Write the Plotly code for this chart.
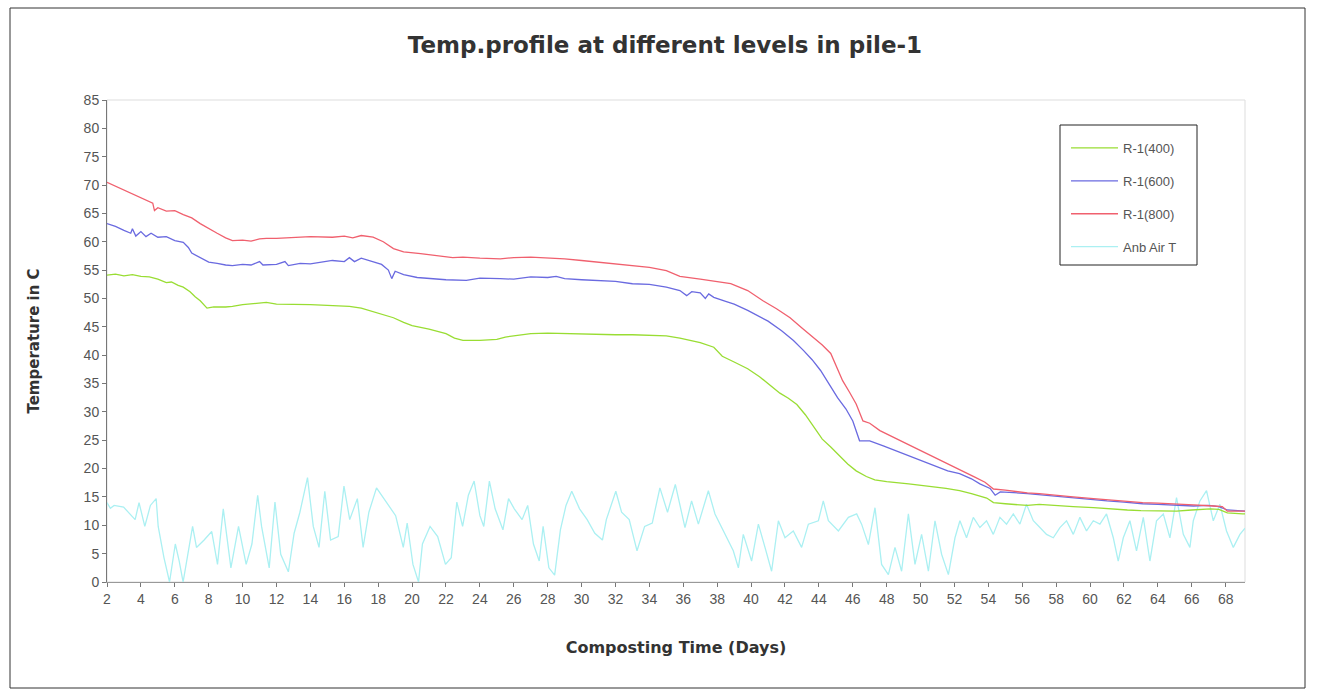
import plotly.graph_objects as go

# ---------------- data ----------------
r400_day = [2.0, 2.5, 3.0, 3.5, 4.0, 4.5, 5.0, 5.5, 5.8, 6.2, 6.5, 6.9, 7.2, 7.5, 7.9, 8.3, 9.0, 9.4,
            10.0, 11.0, 11.4, 12.0, 13.0, 14.0, 15.0, 16.3, 17.0, 17.9, 18.9, 19.5, 20.0, 21.0, 22.0,
            22.5, 23.0, 24.0, 25.0, 25.5, 26.5, 27.0, 28.0, 29.0, 30.0, 31.0, 32.0, 33.0, 34.0, 35.0,
            35.8, 36.5, 37.0, 37.8, 38.3, 39.0, 39.8, 40.5, 41.0, 41.7, 42.2, 42.7, 43.2, 43.7, 44.2,
            44.7, 45.2, 45.7, 46.2, 46.8, 47.3, 48.0, 49.3, 50.5, 51.5, 52.3, 53.0, 53.9, 54.3, 55.0,
            56.3, 57.0, 58.2, 59.0, 60.2, 61.0, 62.2, 63.0, 64.0, 65.1, 66.0, 67.1, 67.6, 68.1, 69.0, 69.14]
r400_val = [54.1, 54.3, 54.0, 54.2, 53.9, 53.8, 53.4, 52.8, 52.9, 52.3, 52.0, 51.2, 50.3, 49.6, 48.3, 48.5, 48.5, 48.6,
            48.9, 49.2, 49.3, 49.0, 49.0, 48.9, 48.8, 48.6, 48.3, 47.5, 46.6, 45.8, 45.2, 44.6, 43.8,
            43.0, 42.6, 42.6, 42.8, 43.2, 43.6, 43.8, 43.9, 43.8, 43.7, 43.7, 43.6, 43.6, 43.5, 43.4,
            43.0, 42.5, 42.2, 41.4, 39.8, 38.8, 37.6, 36.2, 35.0, 33.3, 32.4, 31.3, 29.5, 27.4, 25.2,
            23.8, 22.3, 20.8, 19.6, 18.6, 18.0, 17.7, 17.3, 16.9, 16.5, 16.1, 15.6, 14.8, 14.0, 13.8,
            13.5, 13.7, 13.4, 13.3, 13.1, 12.9, 12.7, 12.6, 12.6, 12.5, 12.7, 12.9, 12.8, 12.2, 12.0, 12.0]

r600_day = [2.0, 2.5, 3.0, 3.4, 3.5, 3.7, 4.0, 4.3, 4.6, 5.0, 5.5, 6.0, 6.5, 6.8, 7.0, 7.5, 8.0, 8.5, 9.0,
            9.4, 10.0, 10.5, 11.0, 11.2, 12.0, 12.5, 12.7, 13.4, 14.0, 15.3, 16.0, 16.3, 16.6, 17.0,
            17.7, 18.2, 18.6, 18.8, 19.0, 19.5, 20.3, 21.0, 22.0, 23.2, 24.0, 25.2, 26.0, 27.0, 28.0,
            28.5, 29.0, 30.0, 31.0, 32.0, 33.0, 34.0, 35.0, 35.8, 36.2, 36.5, 37.0, 37.3, 37.5, 37.8,
            38.5, 39.0, 39.8, 40.5, 41.0, 41.8, 42.5, 43.1, 43.6, 44.1, 44.6, 45.1, 45.6, 46.0, 46.4,
            47.0, 47.8, 48.6, 49.5, 50.6, 51.6, 52.3, 53.0, 53.5, 54.1, 54.4, 54.7, 56.3, 57.0, 58.2,
            59.0, 60.2, 61.0, 62.0, 63.1, 64.0, 65.0, 66.1, 67.0, 67.6, 68.1, 69.0, 69.14]
r600_val = [63.2, 62.7, 62.0, 61.5, 62.3, 61.0, 61.8, 60.9, 61.5, 60.8, 60.9, 60.2, 59.9, 59.0, 58.0, 57.2, 56.4, 56.2, 55.9,
            55.8, 56.0, 55.9, 56.5, 55.9, 56.0, 56.5, 55.8, 56.2, 56.1, 56.7, 56.5, 57.2, 56.5, 57.1,
            56.4, 56.0, 55.0, 53.5, 54.8, 54.2, 53.7, 53.5, 53.3, 53.2, 53.6, 53.5, 53.4, 53.8, 53.7,
            53.9, 53.5, 53.3, 53.2, 53.0, 52.6, 52.5, 52.0, 51.4, 50.5, 51.2, 51.0, 50.0, 50.8, 50.2,
            49.5, 49.0, 47.9, 46.8, 46.0, 44.3, 42.6, 40.8, 39.2, 37.3, 35.0, 32.5, 30.5, 28.4, 24.9,
            24.9, 24.0, 23.1, 22.0, 20.8, 19.6, 19.1, 18.2, 17.3, 16.5, 15.3, 15.9, 15.6, 15.4, 15.0,
            14.9, 14.5, 14.3, 14.1, 13.8, 13.7, 13.6, 13.4, 13.5, 13.3, 12.7, 12.5, 12.5]

r800_day = [2.0, 2.5, 3.0, 3.5, 4.0, 4.5, 4.7, 4.8, 5.0, 5.5, 6.0, 6.5, 7.0, 7.5, 8.0, 8.5, 9.0, 9.4,
            10.0, 10.5, 11.0, 11.4, 12.0, 13.0, 14.0, 15.3, 16.0, 16.5, 17.0, 17.7, 18.3, 18.9, 19.5,
            20.5, 21.5, 22.4, 23.0, 24.0, 25.2, 26.0, 27.0, 28.0, 29.0, 30.0, 31.0, 32.0, 33.0, 34.0,
            35.0, 35.8, 37.0, 37.8, 38.8, 39.8, 40.7, 41.5, 42.3, 43.0, 43.7, 44.2, 44.7, 45.0, 45.4,
            45.8, 46.2, 46.6, 47.0, 47.6, 48.5, 49.6, 50.5, 51.6, 52.5, 53.2, 53.8, 54.3, 55.0, 56.3,
            57.0, 58.2, 59.0, 60.2, 61.0, 62.0, 63.1, 64.0, 65.0, 66.1, 67.3, 67.8, 68.1, 69.0, 69.14]
r800_val = [70.5, 69.8, 69.2, 68.5, 67.8, 67.1, 66.8, 65.5, 66.0, 65.4, 65.5, 64.8, 64.2, 63.2, 62.3, 61.5, 60.7, 60.2,
            60.3, 60.1, 60.5, 60.6, 60.6, 60.8, 60.9, 60.8, 61.0, 60.7, 61.1, 60.8, 60.0, 58.8, 58.2,
            57.9, 57.6, 57.2, 57.3, 57.1, 57.0, 57.2, 57.3, 57.2, 57.0, 56.7, 56.4, 56.1, 55.8, 55.5,
            54.9, 53.9, 53.4, 53.0, 52.6, 51.4, 49.6, 48.2, 46.6, 44.8, 43.1, 41.8, 40.3, 38.3, 35.5,
            33.5, 31.4, 28.4, 28.0, 26.7, 25.4, 23.7, 22.4, 20.8, 19.6, 18.5, 17.6, 16.4, 16.2, 15.7,
            15.6, 15.2, 15.0, 14.7, 14.5, 14.2, 14.0, 13.9, 13.8, 13.6, 13.4, 13.3, 12.5, 12.5, 12.5]

amb_day = [2.0, 2.2, 2.42, 2.98, 3.66, 3.89, 4.23, 4.56, 4.90, 5.02, 5.36, 5.69, 6.03, 6.26, 6.49, 6.82,
           7.05, 7.28, 7.73, 8.18, 8.52, 8.86, 9.31, 9.76, 10.21, 10.55, 10.89, 11.12, 11.57, 11.91,
           12.25, 12.70, 13.04, 13.38, 13.83, 14.17, 14.51, 14.85, 15.19, 15.64, 15.98, 16.32, 16.77,
           17.11, 17.45, 17.90, 18.35, 19.03, 19.48, 19.71, 20.05, 20.38, 20.61, 21.06, 21.51, 21.97,
           22.31, 22.64, 22.98, 23.32, 23.66, 24.00, 24.23, 24.56, 24.90, 25.36, 25.69, 26.03, 26.49,
           26.82, 27.16, 27.50, 27.73, 28.07, 28.41, 28.75, 29.08, 29.42, 29.88, 30.33, 30.78, 31.23,
           31.46, 32.02, 32.36, 32.81, 33.27, 33.72, 34.17, 34.62, 35.07, 35.53, 36.10, 36.49, 36.89,
           37.48, 37.87, 38.46, 38.95, 39.25, 39.54, 40.03, 40.43, 40.82, 41.21, 41.61, 42.00, 42.49,
           42.98, 43.38, 43.97, 44.26, 44.56, 45.15, 45.74, 46.23, 46.52, 46.92, 47.31, 47.70, 48.10,
           48.49, 48.88, 49.28, 49.67, 50.06, 50.46, 50.85, 51.24, 51.64, 52.03, 52.32, 52.71, 53.11,
           53.50, 53.89, 54.29, 54.68, 55.07, 55.47, 55.86, 56.25, 56.65, 57.04, 57.43, 57.83, 58.22,
           58.61, 59.01, 59.40, 59.79, 60.19, 60.58, 60.97, 61.37, 61.66, 61.96, 62.35, 62.74, 63.14,
           63.53, 63.92, 64.32, 64.71, 65.10, 65.50, 65.89, 66.09, 66.48, 66.87, 67.27, 67.66, 68.05,
           68.45, 68.84, 69.14]
amb_val = [14.0, 13.0, 13.5, 13.2, 11.0, 14.0, 9.8, 13.5, 14.7, 9.8, 4.3, 0.0, 6.7, 3.7, 0.0, 6.1,
           9.8, 6.1, 7.4, 8.9, 3.1, 12.9, 2.5, 9.8, 3.1, 6.7, 15.3, 9.8, 2.5, 14.1,
           4.9, 1.8, 8.6, 12.3, 18.4, 9.8, 6.1, 16.0, 7.4, 8.0, 16.9, 11.0, 14.7,
           6.1, 12.3, 16.6, 14.7, 11.7, 6.1, 10.4, 3.1, 0.0, 6.7, 9.8, 8.0, 3.1,
           4.3, 14.1, 9.8, 15.3, 17.8, 11.7, 9.8, 17.8, 12.9, 9.2, 14.7, 12.9, 11.0,
           13.5, 6.7, 3.7, 9.8, 2.5, 1.2, 9.2, 13.5, 16.0, 12.9, 11.0, 8.6, 7.4,
           11.0, 16.0, 12.3, 11.0, 5.5, 9.8, 10.4, 16.6, 12.3, 17.2, 9.6, 14.3, 10.2,
           16.1, 12.0, 8.4, 5.5, 2.5, 8.4, 3.7, 10.2, 6.1, 1.9, 10.8, 7.8, 9.0,
           6.1, 10.2, 10.8, 14.3, 10.8, 9.0, 11.4, 12.0, 10.2, 6.6, 13.1, 3.1, 1.3,
           6.1, 1.9, 12.0, 3.1, 8.4, 1.9, 10.8, 4.9, 1.3, 7.8, 10.8, 7.8, 11.4,
           9.6, 10.8, 8.4, 11.4, 10.2, 12.0, 10.2, 13.7, 10.8, 9.6, 8.4, 7.8, 9.6,
           10.8, 8.4, 11.4, 9.0, 10.8, 10.2, 12.0, 7.8, 3.7, 7.8, 10.8, 5.5, 11.4,
           3.7, 10.8, 12.0, 7.8, 14.9, 8.4, 6.1, 10.8, 14.3, 16.1, 10.8, 13.7, 9.0,
           6.1, 8.4, 9.5]

series_names = ["R-1(400)", "R-1(600)", "R-1(800)", "Anb Air T"]
series_colors = ["#99DD33", "#6A6AE0", "#F0606E", "#ABF0F2"]

x_ticks = list(range(2, 69, 2))
y_ticks = list(range(0, 86, 5))

title_text = "Temp.profile at different levels in pile-1"
x_title = "Composting Time (Days)"
y_title = "Temperature in C"

# ---------------- figure ----------------
W, H = 1317, 694
L, R, T, B = 107, 72, 100, 112
pw, ph = W - L - R, H - T - B

def px2paper_x(px):
    return (px - L) / pw

def px2paper_y(py):
    return (H - B - py) / ph

fig = go.Figure()
series = [(amb_day, amb_val, 3), (r400_day, r400_val, 0), (r600_day, r600_val, 1), (r800_day, r800_val, 2)]
for dx, dy, i in series:
    fig.add_trace(go.Scatter(
        x=dx, y=dy, mode="lines", name=series_names[i],
        line=dict(color=series_colors[i], width=1.3),
        legendgroup=str(i), legendrank=i + 1,
    ))

fig.update_layout(
    width=W, height=H,
    margin=dict(l=L, r=R, t=T, b=B),
    paper_bgcolor="white", plot_bgcolor="white",
    font=dict(family="Liberation Sans, Arial, sans-serif", color="#444", size=13),
    title=dict(text="<b>" + title_text + "</b>", x=665 / W, xref="container", xanchor="center",
               y=1 - 45 / H, yref="container", yanchor="middle",
               font=dict(family="DejaVu Sans, sans-serif", size=23, color="#333")),
    showlegend=True,
    legend=dict(x=px2paper_x(1066), y=px2paper_y(133), xanchor="left", yanchor="top",
                traceorder="grouped", tracegroupgap=13, itemwidth=47,
                borderwidth=0, bgcolor="rgba(0,0,0,0)",
                font=dict(size=13, color="#555")),
    xaxis=dict(range=[2, 69.14], tickvals=x_ticks, ticktext=[str(v) for v in x_ticks],
               showgrid=False, zeroline=False, showline=True, linecolor="#999", linewidth=1,
               ticks="outside", ticklen=4, tickcolor="#777",
               tickfont=dict(size=14, color="#555"),
               title=dict(text="<b>" + x_title + "</b>",
                          font=dict(family="DejaVu Sans, sans-serif", size=16, color="#333"), standoff=36)),
    yaxis=dict(range=[0, 85], tickvals=y_ticks,
               showgrid=False, zeroline=False, showline=True, linecolor="#777", linewidth=1,
               ticks="outside", ticklen=4, tickcolor="#777",
               tickfont=dict(size=14, color="#555"),
               title=dict(text="<b>" + y_title + "</b>",
                          font=dict(family="DejaVu Sans, sans-serif", size=15, color="#333"), standoff=40)),
    shapes=[
        # plot-area frame (top/right light lines)
        dict(type="rect", xref="paper", yref="paper", x0=0, x1=1, y0=0, y1=1,
             line=dict(color="#DDDDDD", width=1), layer="below"),
        # legend box
        dict(type="rect", xref="paper", yref="paper",
             x0=px2paper_x(1060), x1=px2paper_x(1197), y0=px2paper_y(265), y1=px2paper_y(125),
             line=dict(color="#222", width=1)),
        # outer chart border
        dict(type="rect", xref="paper", yref="paper",
             x0=px2paper_x(10), x1=px2paper_x(1305), y0=px2paper_y(688), y1=px2paper_y(8),
             line=dict(color="#333", width=1)),
    ],
)

fig.write_html("out.html")
